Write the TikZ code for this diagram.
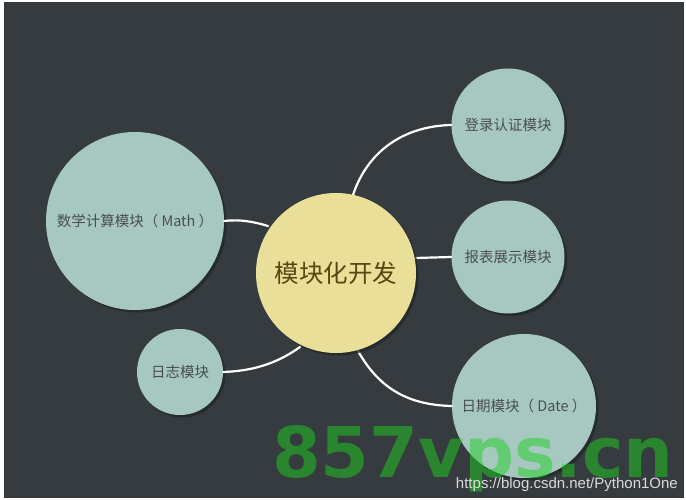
\documentclass[tikz,border=0pt]{standalone}
\usepackage{fontspec}
\setmainfont{Liberation Sans}
\newfontfamily\cjk{Noto Sans CJK SC}
\usetikzlibrary{shadows}
\definecolor{bgdark}{HTML}{353B3F}
\definecolor{modfill}{HTML}{A6C8C1}
\definecolor{centfill}{HTML}{E9DF98}
\definecolor{modtext}{HTML}{4A4E4E}
\definecolor{centtext}{HTML}{5A4612}
\definecolor{shadowc}{HTML}{22272A}
\definecolor{wmgreen}{HTML}{20D020}
\tikzset{
  modnode/.style={circle, fill=modfill, inner sep=0pt, text=modtext,
    font=\cjk\fontsize{14.5}{16}\selectfont,
    drop shadow={shadow xshift=2.5pt, shadow yshift=-2.5pt, fill=shadowc, opacity=0.8}},
  centnode/.style={circle, fill=centfill, inner sep=0pt, text=centtext,
    font=\cjk\fontsize{24.5}{26}\selectfont,
    drop shadow={shadow xshift=2.5pt, shadow yshift=-2.5pt, fill=shadowc, opacity=0.8}},
  link/.style={draw=white, line width=2.2pt, line cap=round}
}
\begin{document}
\begin{tikzpicture}[x=1pt,y=-1pt]
\useasboundingbox (0,0) rectangle (686,500);
\fill[white] (0,0) rectangle (686,500);
\fill[bgdark] (4,2) rectangle (684,498);
\coordinate (cA) at (353,195);
\coordinate (cB) at (358,351);
\coordinate (cC) at (300,347);
\coordinate (cD) at (268,226);
\coordinate (cE) at (415,258);
\node[modnode, minimum size=178pt] (math) at (135,221) {数学计算模块（ Math ）};
\node[modnode, minimum size=86pt] (log) at (180,372) {日志模块};
\node[modnode, minimum size=113pt] (login) at (508,125) {登录认证模块};
\node[modnode, minimum size=113pt] (report) at (508,257) {报表展示模块};
\node[modnode, minimum size=144pt] (date) at (524,406) {日期模块（ Date ）};
\draw[link] (cA) .. controls (368,150) and (405,126) .. (login.west);
\draw[link] (cB) .. controls (380,390) and (410,405) .. (date.west);
\draw[link] (cC) .. controls (275,365) and (250,371) .. (log.east);
\draw[link] (cD) .. controls (255,222) and (240,219) .. (math.east);
\draw[link] (cE) -- (report.west);
\node[centnode, minimum size=160pt] (center) at (336,273) {模块化开发};
% watermark
\node[anchor=base west, inner sep=0pt, text=wmgreen, text opacity=0.5,
  font=\fontspec{DejaVu Sans}\bfseries\fontsize{70}{72}\selectfont] (wm) at (272,477) {857vps.cn};
\node[anchor=base east, inner sep=0pt, text=white!85!gray, opacity=0.9,
  font=\fontsize{15}{16}\selectfont] (url) at (678,488) {https://blog.csdn.net/Python1One};
\end{tikzpicture}
\end{document}
